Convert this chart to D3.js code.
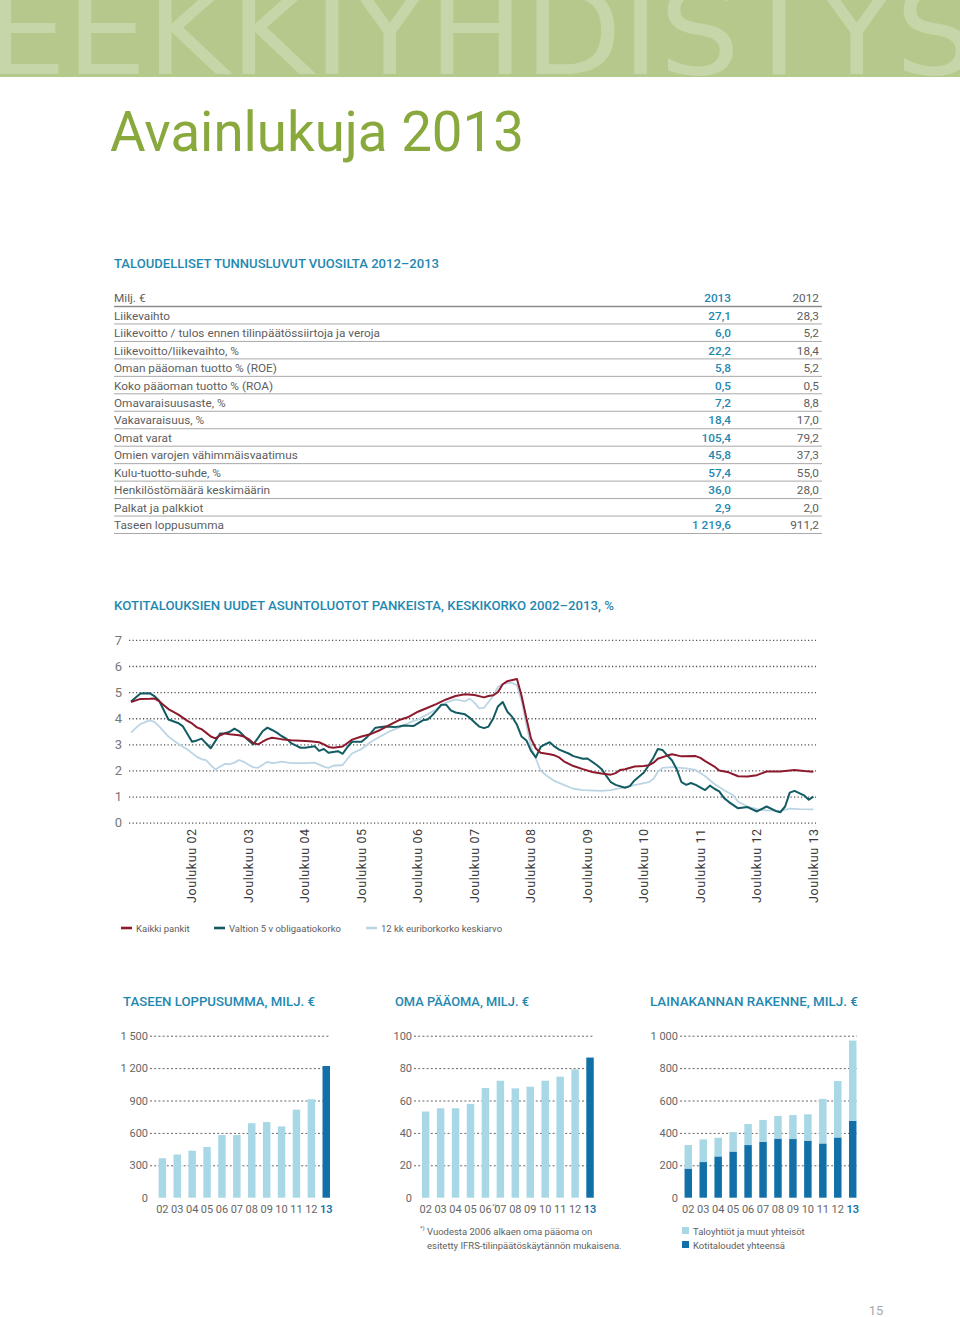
<!DOCTYPE html>
<html><head><meta charset="utf-8">
<script src="https://cdn.jsdelivr.net/npm/d3@7"></script>
<style>
body{margin:0;background:#fff}
svg{display:block;font-family:Roboto,"Noto Sans",sans-serif}
</style></head><body>
<svg id="page" width="960" height="1317"></svg>
<script>
// ---------------- DATA ----------------
const tableRows = ["Liikevaihto","Liikevoitto / tulos ennen tilinpäätössiirtoja ja veroja","Liikevoitto/liikevaihto, %","Oman pääoman tuotto % (ROE)","Koko pääoman tuotto % (ROA)","Omavaraisuusaste, %","Vakavaraisuus, %","Omat varat","Omien varojen vähimmäisvaatimus","Kulu-tuotto-suhde, %","Henkilöstömäärä keskimäärin","Palkat ja palkkiot","Taseen loppusumma"];
const values2013 = [27.1, 6.0, 22.2, 5.8, 0.5, 7.2, 18.4, 105.4, 45.8, 57.4, 36.0, 2.9, 1219.6];
const values2012 = [28.3, 5.2, 18.4, 5.2, 0.5, 8.8, 17.0, 79.2, 37.3, 55.0, 28.0, 2.0, 911.2];

const kaikkiPankit = [["2001-11",4.62],["2002-01",4.74],["2002-03",4.75],["2002-04",4.76],["2002-05",4.66],["2002-06",4.50],["2002-07",4.35],["2002-09",4.15],["2002-11",3.90],["2002-12",3.80],["2003-01",3.65],["2003-02",3.58],["2003-03",3.45],["2003-04",3.30],["2003-05",3.23],["2003-06",3.35],["2003-07",3.42],["2003-08",3.39],["2003-10",3.35],["2003-11",3.30],["2003-12",3.20],["2004-01",3.05],["2004-02",3.00],["2004-03",3.10],["2004-04",3.20],["2004-05",3.25],["2004-07",3.20],["2004-09",3.16],["2004-11",3.14],["2005-01",3.12],["2005-03",3.08],["2005-04",3.00],["2005-05",2.90],["2005-06",2.87],["2005-08",2.92],["2005-09",3.05],["2005-10",3.18],["2005-12",3.30],["2006-02",3.40],["2006-04",3.55],["2006-06",3.75],["2006-08",3.93],["2006-10",4.05],["2006-12",4.25],["2007-02",4.40],["2007-04",4.55],["2007-06",4.72],["2007-08",4.85],["2007-10",4.92],["2007-12",4.89],["2008-02",4.80],["2008-03",4.85],["2008-04",4.88],["2008-05",5.00],["2008-06",5.30],["2008-07",5.42],["2008-09",5.50],["2008-10",4.85],["2008-11",4.00],["2008-12",3.22],["2009-01",2.84],["2009-02",2.68],["2009-04",2.62],["2009-05",2.58],["2009-06",2.50],["2009-07",2.35],["2009-09",2.17],["2009-11",2.05],["2010-01",1.94],["2010-03",1.88],["2010-05",1.84],["2010-06",1.90],["2010-07",2.02],["2010-08",2.05],["2010-10",2.15],["2010-12",2.17],["2011-01",2.20],["2011-02",2.30],["2011-03",2.45],["2011-05",2.57],["2011-06",2.62],["2011-08",2.54],["2011-11",2.55],["2011-12",2.48],["2012-01",2.36],["2012-03",2.15],["2012-04",2.00],["2012-06",1.93],["2012-08",1.78],["2012-10",1.77],["2012-12",1.82],["2013-02",1.96],["2013-05",1.96],["2013-08",2.02],["2013-10",1.98],["2013-12",1.95]];

const valtion5v = [["2001-11",4.64],["2002-01",4.95],["2002-03",4.96],["2002-04",4.85],["2002-05",4.68],["2002-07",3.95],["2002-09",3.82],["2002-10",3.70],["2002-11",3.40],["2002-12",3.10],["2003-01",3.15],["2003-02",3.22],["2003-03",3.04],["2003-04",2.85],["2003-06",3.42],["2003-07",3.43],["2003-08",3.48],["2003-09",3.60],["2003-10",3.50],["2003-11",3.32],["2003-12",3.15],["2004-01",3.00],["2004-02",3.25],["2004-03",3.50],["2004-04",3.64],["2004-05",3.55],["2004-06",3.45],["2004-07",3.32],["2004-08",3.22],["2004-09",3.05],["2004-10",2.96],["2004-11",2.87],["2004-12",2.87],["2005-01",2.90],["2005-02",2.93],["2005-03",2.75],["2005-04",2.82],["2005-05",2.68],["2005-07",2.74],["2005-08",2.64],["2005-09",2.90],["2005-10",3.10],["2005-12",3.10],["2006-01",3.25],["2006-02",3.45],["2006-03",3.64],["2006-05",3.68],["2006-07",3.66],["2006-08",3.68],["2006-09",3.72],["2006-11",3.70],["2007-01",3.92],["2007-02",3.95],["2007-03",4.10],["2007-04",4.30],["2007-05",4.52],["2007-06",4.52],["2007-07",4.30],["2007-08",4.22],["2007-10",4.15],["2007-11",4.02],["2007-12",3.85],["2008-01",3.68],["2008-02",3.62],["2008-03",3.68],["2008-04",4.00],["2008-05",4.45],["2008-06",4.62],["2008-07",4.25],["2008-08",4.05],["2008-09",3.75],["2008-10",3.30],["2008-11",3.15],["2008-12",2.75],["2009-01",2.50],["2009-02",2.90],["2009-03",3.00],["2009-04",3.08],["2009-05",2.92],["2009-06",2.80],["2009-08",2.65],["2009-09",2.55],["2009-11",2.45],["2009-12",2.46],["2010-02",2.20],["2010-03",2.06],["2010-05",1.55],["2010-06",1.45],["2010-08",1.34],["2010-09",1.40],["2010-10",1.62],["2010-12",1.92],["2011-01",2.20],["2011-02",2.50],["2011-03",2.82],["2011-04",2.78],["2011-05",2.58],["2011-06",2.38],["2011-07",2.05],["2011-08",1.55],["2011-09",1.45],["2011-10",1.52],["2011-11",1.45],["2012-01",1.25],["2012-02",1.42],["2012-03",1.30],["2012-04",1.20],["2012-05",0.95],["2012-06",0.80],["2012-08",0.55],["2012-10",0.60],["2012-12",0.43],["2013-02",0.62],["2013-04",0.45],["2013-05",0.40],["2013-06",0.62],["2013-07",1.15],["2013-08",1.22],["2013-10",1.05],["2013-11",0.88],["2013-12",1.00]];

const euribor12kk = [["2001-11",3.45],["2001-12",3.62],["2002-01",3.78],["2002-02",3.85],["2002-03",3.92],["2002-04",3.86],["2002-05",3.70],["2002-07",3.30],["2002-09",3.02],["2002-11",2.80],["2003-01",2.52],["2003-02",2.43],["2003-03",2.40],["2003-04",2.20],["2003-05",2.04],["2003-06",2.15],["2003-07",2.25],["2003-08",2.24],["2003-09",2.30],["2003-10",2.40],["2003-11",2.33],["2003-12",2.22],["2004-01",2.12],["2004-02",2.10],["2004-03",2.22],["2004-04",2.33],["2004-05",2.28],["2004-06",2.30],["2004-07",2.34],["2004-09",2.28],["2004-12",2.28],["2005-02",2.30],["2005-04",2.15],["2005-05",2.10],["2005-06",2.18],["2005-08",2.21],["2005-09",2.45],["2005-10",2.66],["2005-12",2.82],["2006-02",3.10],["2006-04",3.30],["2006-06",3.50],["2006-08",3.65],["2006-10",3.82],["2006-12",3.96],["2007-02",4.15],["2007-04",4.35],["2007-06",4.60],["2007-08",4.72],["2007-10",4.65],["2007-11",4.75],["2007-12",4.60],["2008-01",4.38],["2008-02",4.40],["2008-03",4.62],["2008-04",4.85],["2008-05",5.20],["2008-06",5.32],["2008-08",5.36],["2008-09",5.26],["2008-10",4.65],["2008-11",3.75],["2008-12",2.90],["2009-01",2.45],["2009-02",2.00],["2009-03",1.85],["2009-05",1.60],["2009-07",1.45],["2009-09",1.30],["2009-11",1.25],["2010-03",1.22],["2010-05",1.25],["2010-07",1.32],["2010-10",1.44],["2011-01",1.55],["2011-02",1.68],["2011-03",1.95],["2011-04",2.10],["2011-06",2.13],["2011-09",2.08],["2011-11",2.02],["2012-01",1.78],["2012-03",1.48],["2012-05",1.25],["2012-07",1.05],["2012-08",0.80],["2012-10",0.62],["2012-12",0.52],["2013-02",0.47],["2013-05",0.45],["2013-07",0.54],["2013-09",0.52],["2013-12",0.51]];

const lineTicks = [0,1,2,3,4,5,6,7];
const decemberLabels = ["Joulukuu 02","Joulukuu 03","Joulukuu 04","Joulukuu 05","Joulukuu 06","Joulukuu 07","Joulukuu 08","Joulukuu 09","Joulukuu 10","Joulukuu 11","Joulukuu 12","Joulukuu 13"];
const decemberDates = ["2002-12","2003-12","2004-12","2005-12","2006-12","2007-12","2008-12","2009-12","2010-12","2011-12","2012-12","2013-12"];
const lineLegend = ["Kaikki pankit","Valtion 5 v obligaatiokorko","12 kk euriborkorko keskiarvo"];

const barYears = ["02","03","04","05","06","07","08","09","10","11","12","13"];
const taseenLoppusumma = [365, 400, 435, 470, 580, 580, 690, 700, 660, 815, 911.2, 1219.6];
const taseTicks = [0,300,600,900,1200,1500];
const omaPaaoma = [53.2, 55.2, 55.2, 57.9, 67.7, 72.2, 67.5, 68.5, 72.2, 74.7, 79.2, 86.5];
const omaTicks = [0,20,40,60,80,100];
const kotitaloudet = [180, 220, 255, 285, 325, 345, 365, 362, 352, 335, 372, 475];
const taloyhtiot = [145, 140, 115, 120, 130, 135, 140, 148, 163, 275, 348, 495];
const lainaTicks = [0,200,400,600,800,1000];

// ---------------- DRAW ----------------
const fi = d3.formatLocale({decimal: ",", thousands: "\u00a0", grouping: [3], currency: ["", ""]});
const fmt1 = fi.format(",.1f");
const fmtInt = fi.format(",");
const svg = d3.select("#page");
const BLUE = "#1f88b0", GRAY = "#5e5e5e";

// header band with watermark
svg.append("clipPath").attr("id","band").append("rect").attr("x",0).attr("y",0).attr("width",960).attr("height",77);
svg.append("rect").attr("x",0).attr("y",0).attr("width",960).attr("height",77).attr("fill","#b6c98c");
svg.append("text").attr("clip-path","url(#band)")
  .attr("x",-14).attr("y",74).attr("font-size",120).attr("font-family","'DejaVu Sans Condensed','DejaVu Sans'")
  .attr("textLength",990).attr("lengthAdjust","spacingAndGlyphs")
  .attr("fill","#c6d6a8").text("EEKKIYHDISTYS");

svg.append("text").attr("x",110).attr("y",151).attr("font-size",55).attr("fill","#8aa93d")
  .attr("textLength",414).attr("lengthAdjust","spacingAndGlyphs").text("Avainlukuja 2013");

function sectionTitle(x, y, txt, len){
  svg.append("text").attr("x",x).attr("y",y).attr("font-size",12.5).attr("font-weight",500)
    .attr("fill",BLUE).attr("textLength",len).attr("lengthAdjust","spacingAndGlyphs").text(txt);
}

// ---- table ----
sectionTitle(114, 268, "TALOUDELLISET TUNNUSLUVUT VUOSILTA 2012–2013", 325);
const tbl = svg.append("g").attr("font-size",11.8);
tbl.append("text").attr("x",114).attr("y",302).attr("fill",GRAY).text("Milj. €");
tbl.append("text").attr("x",731).attr("y",302).attr("text-anchor","end").attr("fill",BLUE).attr("font-weight",500).text("2013");
tbl.append("text").attr("x",819).attr("y",302).attr("text-anchor","end").attr("fill",GRAY).text("2012");
tbl.append("line").attr("x1",114).attr("x2",822).attr("y1",306.5).attr("y2",306.5).attr("stroke","#8c8c8c").attr("stroke-width",1.6);
const rowY = d3.scaleBand().domain(tableRows).range([306.5, 533.5]);
const rows = tbl.selectAll("g.row").data(tableRows).join("g").attr("class","row")
  .attr("transform", d => `translate(0,${rowY(d)})`);
rows.append("text").attr("x",114).attr("y",rowY.bandwidth()/2+4.5).attr("fill",GRAY).text(d => d);
rows.append("text").attr("x",731).attr("y",rowY.bandwidth()/2+4.5).attr("text-anchor","end").attr("fill",BLUE).attr("font-weight",500)
  .text((d,i) => fmt1(values2013[i]));
rows.append("text").attr("x",819).attr("y",rowY.bandwidth()/2+4.5).attr("text-anchor","end").attr("fill",GRAY)
  .text((d,i) => fmt1(values2012[i]));
rows.append("line").attr("x1",114).attr("x2",822).attr("y1",rowY.bandwidth()).attr("y2",rowY.bandwidth())
  .attr("stroke","#a8a8a8").attr("stroke-width",1);

// ---- line chart ----
sectionTitle(114, 610, "KOTITALOUKSIEN UUDET ASUNTOLUOTOT PANKEISTA, KESKIKORKO 2002–2013, %", 500);
const parse = d3.timeParse("%Y-%m");
const x = d3.scaleTime().domain([parse("2001-11"), parse("2013-12")]).range([131, 813.4]);
const y = d3.scaleLinear().domain([0,7]).range([822.7, 639.9]);
const yAx = svg.append("g").attr("transform","translate(129,0)")
  .call(d3.axisLeft(y).tickValues(lineTicks).tickSize(-(816-129)).tickPadding(7).tickFormat(d3.format("d")));
yAx.select(".domain").remove();
yAx.selectAll(".tick line").attr("stroke","#555").attr("stroke-width",1.3).attr("stroke-dasharray","1.2 2.3");
yAx.selectAll(".tick text").attr("font-size",13).attr("fill","#777").attr("font-family","Roboto");

const xAx = svg.append("g").attr("font-size",12.5).attr("fill","#333");
xAx.selectAll("text").data(decemberDates).join("text")
  .attr("transform", d => `translate(${x(parse(d))},903) rotate(-90)`)
  .attr("dy","0.35em").attr("letter-spacing",0.6).attr("fill","#3a3a3a")
  .text((d,i) => decemberLabels[i]);

const line = d3.line().x(d => x(parse(d[0]))).y(d => y(d[1]));
const series = [
  {data: euribor12kk, color: "#bcd5e4", w: 1.8},
  {data: valtion5v, color: "#125b63", w: 2},
  {data: kaikkiPankit, color: "#8c1a2c", w: 2}
];
svg.append("g").selectAll("path").data(series).join("path")
  .attr("d", d => line(d.data)).attr("fill","none").attr("stroke", d => d.color)
  .attr("stroke-width", d => d.w).attr("stroke-linejoin","round");

const legColors = ["#8c1a2c","#125b63","#bcd5e4"];
const legX = [121, 214, 366];
const leg = svg.append("g").selectAll("g").data(lineLegend).join("g")
  .attr("transform",(d,i) => `translate(${legX[i]},928)`);
leg.append("line").attr("x1",0).attr("x2",11).attr("stroke",(d,i)=>legColors[i]).attr("stroke-width",2.6);
leg.append("text").attr("x",15).attr("y",3.5).attr("font-size",9.5).attr("fill",GRAY).text(d => d);

// ---- bar charts ----
function barChart(opts){
  const g = svg.append("g");
  sectionTitle(opts.titleX, 1006, opts.title, opts.titleLen);
  const xb = d3.scaleBand().domain(barYears).range(opts.range).paddingInner(0.5).paddingOuter(0.25);
  const yb = d3.scaleLinear().domain([0, opts.max]).range([1197.7, 1035.7]);
  const ax = g.append("g").attr("transform",`translate(${opts.gridX0},0)`)
    .call(d3.axisLeft(yb).tickValues(opts.ticks).tickSize(-(opts.gridX1-opts.gridX0)).tickPadding(2).tickFormat(fmtInt));
  ax.select(".domain").remove();
  ax.selectAll(".tick line").attr("stroke","#666").attr("stroke-dasharray","2 2.2").attr("stroke-width",1)
    .attr("display", d => d === 0 ? "none" : null);
  ax.selectAll(".tick text").attr("font-size",11).attr("fill","#666").attr("font-family","Roboto");
  const stacked = d3.stack().keys(d3.range(opts.layers.length))
    .value((d,k) => opts.layers[k][barYears.indexOf(d)])(barYears);
  stacked.forEach((layer,k) => {
    g.append("g").selectAll("rect").data(layer).join("rect")
      .attr("x", d => xb(d.data)).attr("width", xb.bandwidth())
      .attr("y", d => yb(d[1])).attr("height", d => yb(d[0]) - yb(d[1]))
      .attr("fill", d => opts.colors(k, d.data));
  });
  g.append("g").selectAll("text").data(barYears).join("text")
    .attr("x", d => xb(d) + xb.bandwidth()/2).attr("y",1213).attr("text-anchor","middle")
    .attr("font-size",11).attr("fill", d => d === "13" ? "#1673aa" : "#666")
    .attr("font-weight", d => d === "13" ? 600 : 400).text(d => d);
  return {g, xb};
}
const LIGHT = "#a8d7e5", DARK = "#1270a8";
barChart({title:"TASEEN LOPPUSUMMA, MILJ. €", titleX:123, titleLen:192, range:[154.9,333.7], max:1500, ticks:taseTicks,
  gridX0:150, gridX1:330, layers:[taseenLoppusumma], colors:(k,yr) => yr === "13" ? DARK : LIGHT});
const oma = barChart({title:"OMA PÄÄOMA, MILJ. €", titleX:395, titleLen:134, range:[418.2,597.5], max:100, ticks:omaTicks,
  gridX0:414, gridX1:593, layers:[omaPaaoma], colors:(k,yr) => yr === "13" ? DARK : LIGHT});
oma.g.append("text").attr("x", oma.xb("06") + oma.xb.bandwidth()/2 + 6.5).attr("y",1208).attr("font-size",6).attr("fill","#666").text("*)");
barChart({title:"LAINAKANNAN RAKENNE, MILJ. €", titleX:650, titleLen:208, range:[680.8,860.2], max:1000, ticks:lainaTicks,
  gridX0:680, gridX1:857, layers:[kotitaloudet, taloyhtiot], colors:(k) => k === 0 ? DARK : LIGHT});

// footnote
const fn = svg.append("g").attr("font-size",9.5).attr("fill",GRAY);
fn.append("text").attr("x",420).attr("y",1230).attr("font-size",6).text("*)");
fn.append("text").attr("x",427).attr("y",1234.5).text("Vuodesta 2006 alkaen oma pääoma on");
fn.append("text").attr("x",427).attr("y",1248.5).text("esitetty IFRS-tilinpäätöskäytännön mukaisena.");

// chart 3 legend
const lLeg = svg.append("g").attr("font-size",9.5).attr("fill",GRAY);
[["Taloyhtiöt ja muut yhteisöt", LIGHT],["Kotitaloudet yhteensä", DARK]].forEach((d,i) => {
  lLeg.append("rect").attr("x",682).attr("y",1227 + i*14).attr("width",7).attr("height",7).attr("fill",d[1]);
  lLeg.append("text").attr("x",693).attr("y",1234.5 + i*14).text(d[0]);
});

svg.append("text").attr("x",876).attr("y",1315).attr("text-anchor","middle").attr("font-size",13).attr("fill","#aaa").text("15");
</script>
</body></html>
